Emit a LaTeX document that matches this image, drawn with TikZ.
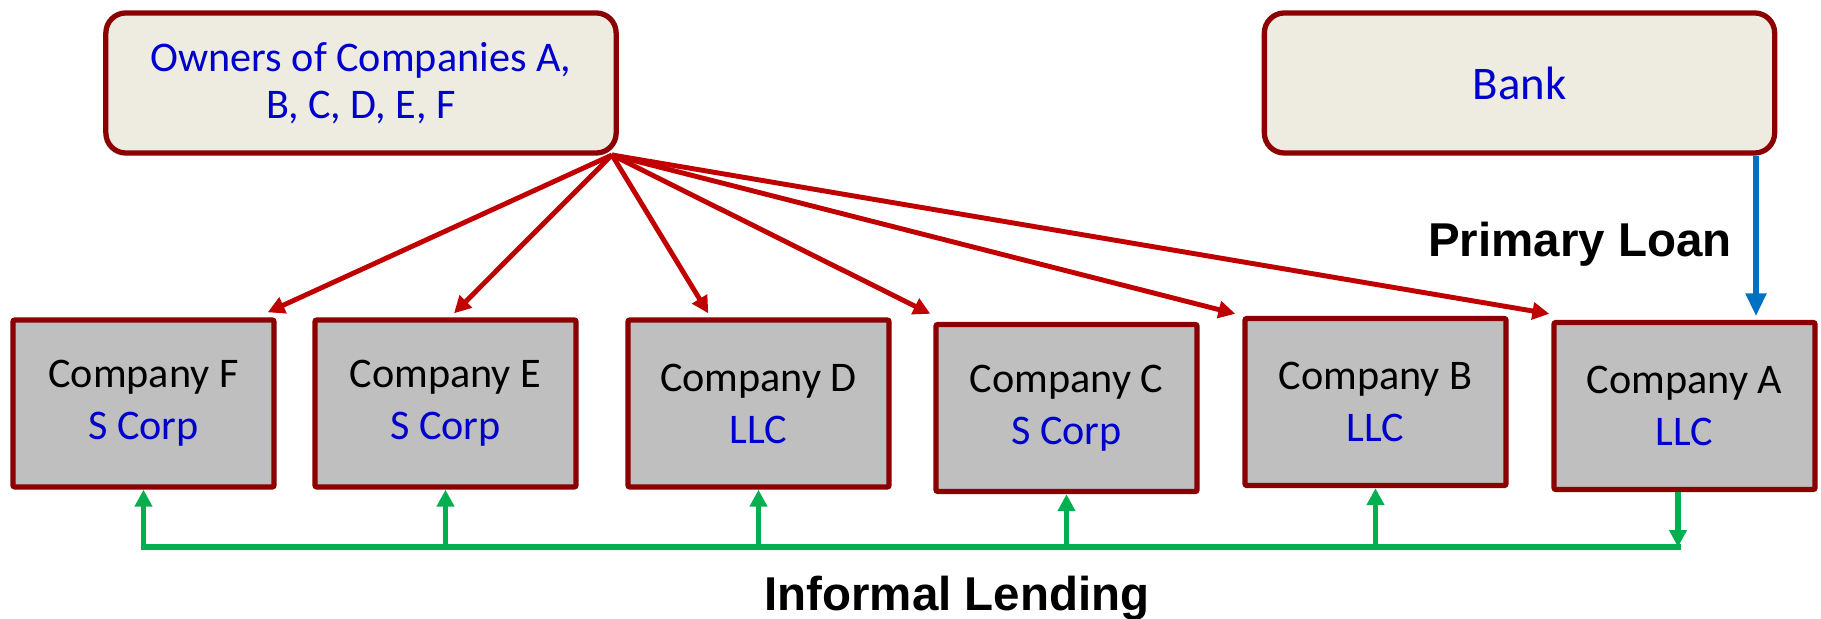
\documentclass[tikz,border=0pt]{standalone}
\usepackage{fontspec}
\setmainfont{Carlito}
\newfontfamily\labelfont{Liberation Sans}
\usetikzlibrary{arrows.meta}

\definecolor{boxred}{HTML}{8B0000}
\definecolor{arrowred}{HTML}{C00000}
\definecolor{creamfill}{HTML}{EEECE1}
\definecolor{greyfill}{HTML}{BFBFBF}
\definecolor{textblue}{HTML}{0000CC}
\definecolor{loanblue}{HTML}{0070C0}
\definecolor{lendgreen}{HTML}{00B050}

\newcommand{\corptype}[1]{\textcolor{textblue}{#1}}

\tikzset{
  partybox/.style={draw=boxred, line width=1.5pt, fill=creamfill,
    rounded corners=0.2cm, text=textblue, align=center,
    minimum width=5.1cm, minimum height=1.4cm,
    font=\fontsize{12}{13.2}\selectfont},
  companybox/.style={draw=boxred, line width=1.5pt, fill=greyfill,
    rounded corners=0.6pt, align=center, inner sep=0pt,
    minimum width=2.61cm, minimum height=1.67cm,
    font=\fontsize{12}{14.8}\selectfont},
  labeltext/.style={font=\labelfont\bfseries\fontsize{13.5}{16}\selectfont},
  ownarrow/.style={draw=arrowred, line width=1.4pt,
    -{Triangle[length=4.8pt,width=4.8pt]}},
  loanarrow/.style={draw=loanblue, line width=1.8pt,
    -{Triangle[length=6.5pt,width=5.6pt]}},
  lendline/.style={draw=lendgreen, line width=1.5pt},
  lendarrow/.style={lendline, -{Triangle[length=4.8pt,width=4.8pt]}}
}

\begin{document}
\begin{tikzpicture}[x=0.01cm,y=-0.01cm]
  \useasboundingbox (0,0) rectangle (1821,619);

  % lenders on top
  \node[partybox] (owners) at (361,83) {Owners of Companies A,\\B, C, D, E, F};
  \node[partybox, font=\fontsize{13.3}{15}\selectfont] (bank) at (1519.5,83) {Bank};

  % the six companies
  \node[companybox] (compF) at (143.5,403.5) {Company F\\\corptype{S Corp}};
  \node[companybox] (compE) at (445.5,403.5) {Company E\\\corptype{S Corp}};
  \node[companybox] (compD) at (758.5,403.5) {Company D\\\corptype{LLC}};
  \node[companybox] (compC) at (1066.5,408) {Company C\\\corptype{S Corp}};
  \node[companybox] (compB) at (1375.5,402) {Company B\\\corptype{LLC}};
  \node[companybox] (compA) at (1684.5,406) {Company A\\\corptype{LLC}};

  \node[labeltext, anchor=base] (loanlabel) at (1580,257) {Primary Loan};
  \node[labeltext, anchor=base] (lendlabel) at (957,611) {Informal Lending};

  % owners fund every company
  \coordinate (src) at (612,155);
  \draw[ownarrow] (src) -- ([shift={(-9,-5)}]compF.north east);
  \draw[ownarrow] (src) -- ([shift={(8.5,-4)}]compE.north);
  \draw[ownarrow] (src) -- ([shift={(83,-4)}]compD.north west);
  \draw[ownarrow] (src) -- ([shift={(-3,-8)}]compC.north west);
  \draw[ownarrow] (src) -- ([shift={(-7,-2)}]compB.north west);
  \draw[ownarrow] (src) -- ([shift={(-2,-6)}]compA.north west);

  % bank loan
  \coordinate (loanx) at (1756,0);
  \draw[loanarrow, shorten >=1pt] (bank.south -| loanx) -- (compA.north -| loanx);

  % lending between companies
  \coordinate (rail) at (0,547);
  \coordinate (dropA) at ([xshift=-0.065cm]compA.south);
  \draw[lendline, line cap=rect] (compF.south |- rail) -- (dropA |- rail);
  \foreach \c in {F,E,D,C,B}
    \draw[lendarrow] (comp\c.south |- rail) -- (comp\c.south);
  \draw[lendarrow] (dropA) -- (dropA |- rail);

\end{tikzpicture}
\end{document}
